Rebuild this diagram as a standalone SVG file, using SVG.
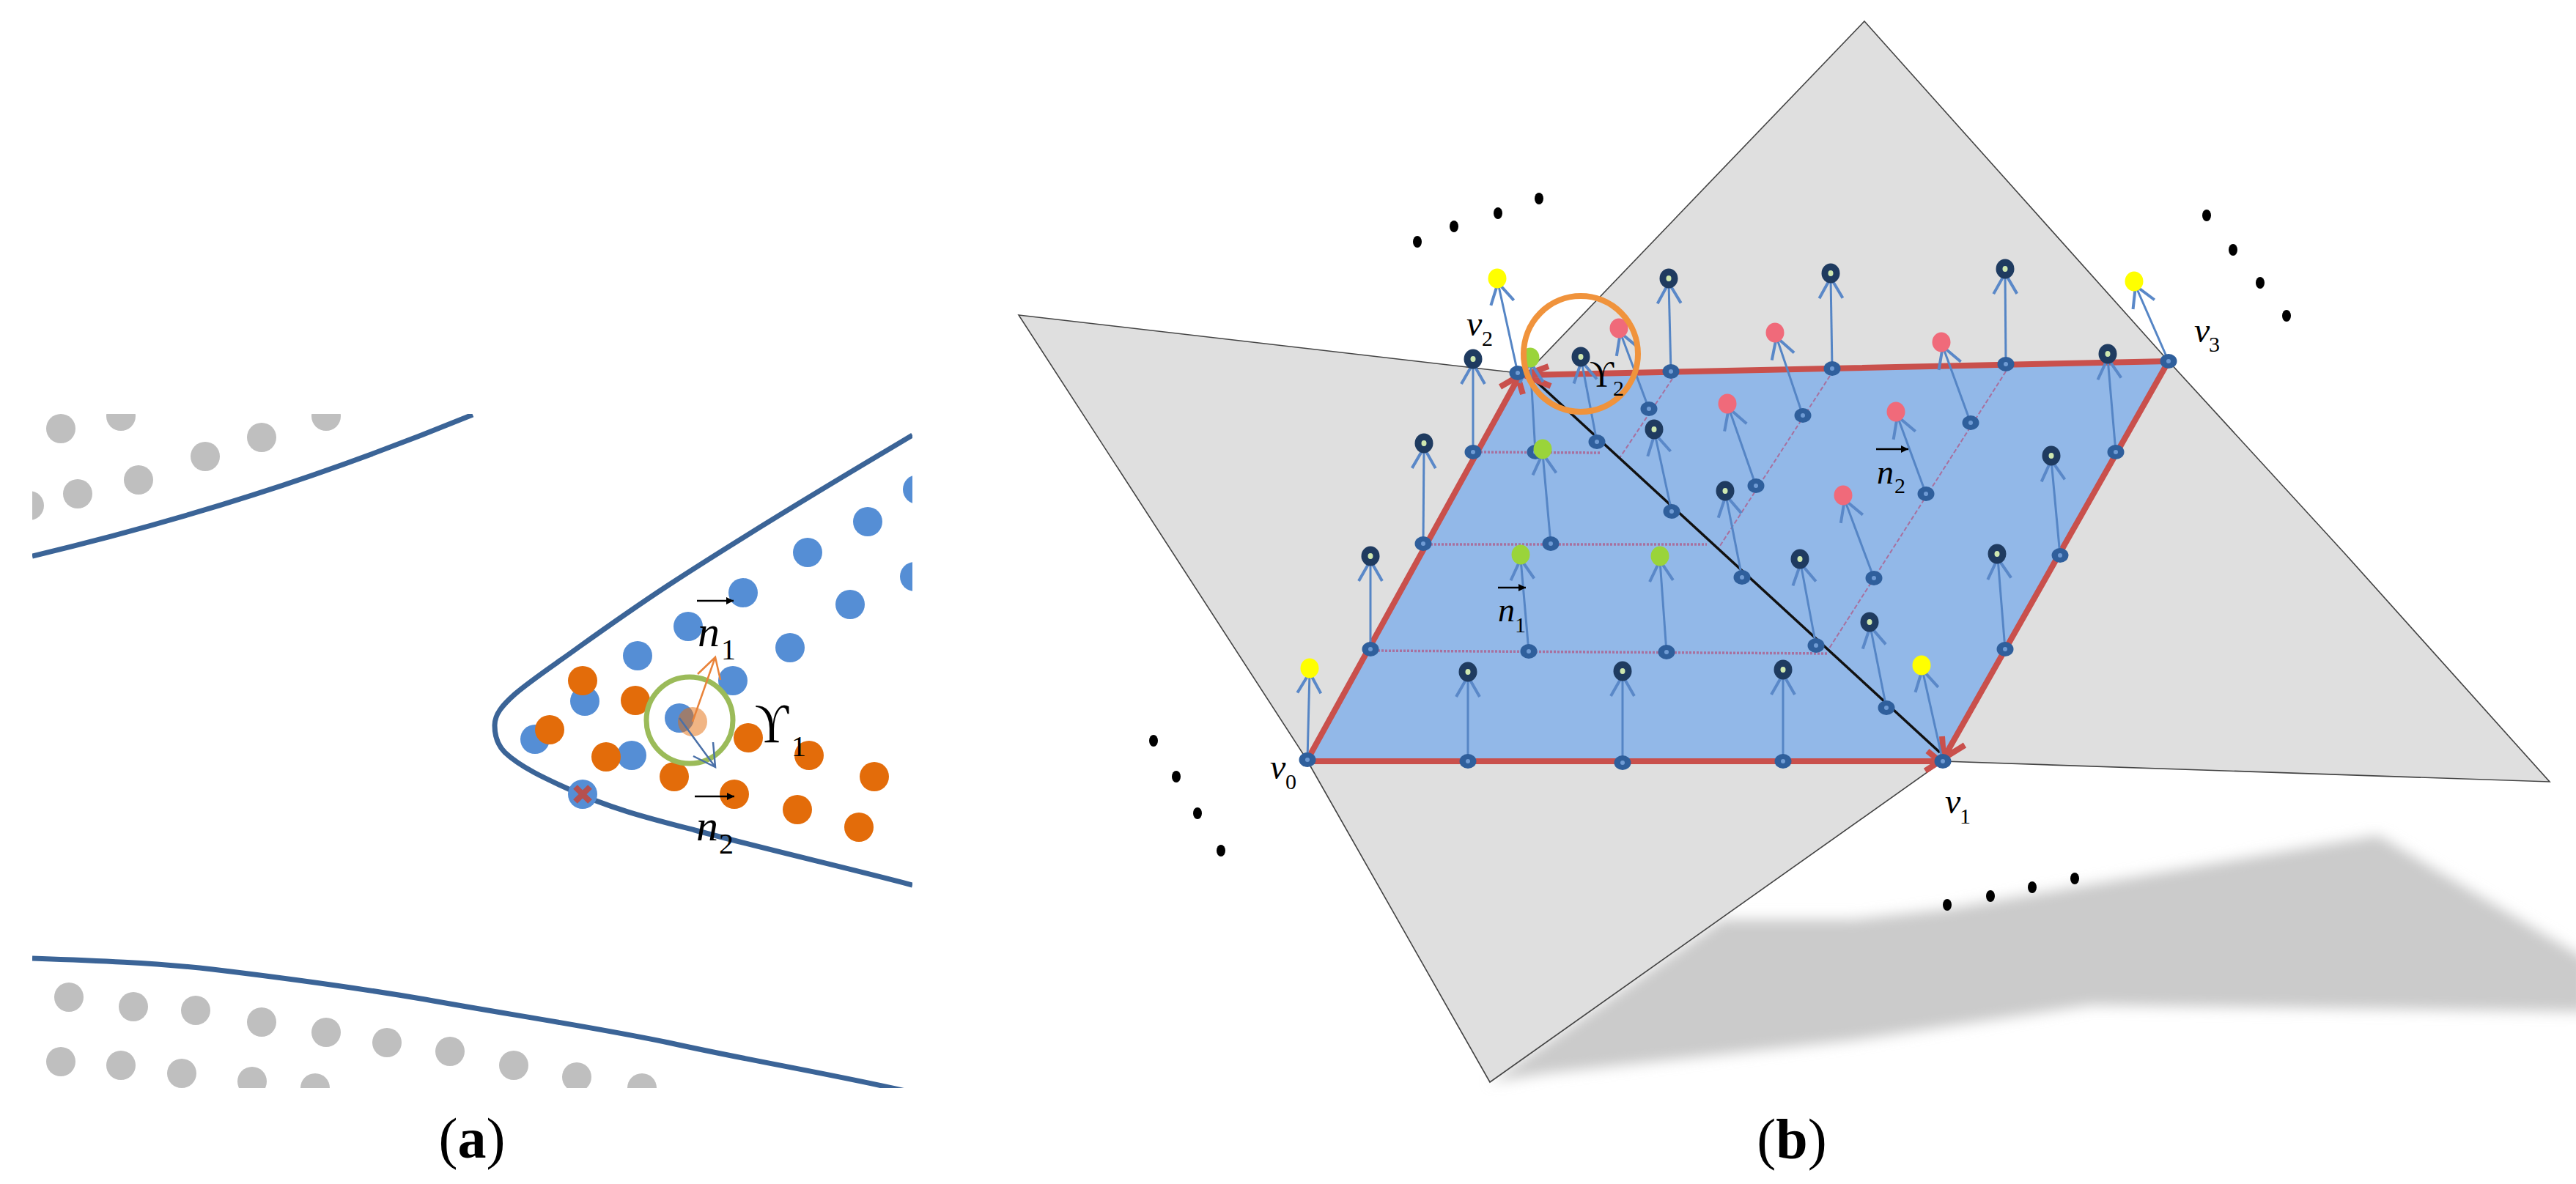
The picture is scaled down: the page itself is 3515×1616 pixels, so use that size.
<svg xmlns="http://www.w3.org/2000/svg" width="3515" height="1616" viewBox="0 0 3515 1616">
<style>
text{font-family:"Liberation Serif","Times New Roman",serif;fill:#000}
.it{font-style:italic}
.g{fill:#bfbfbf}.b{fill:#558ed5}.o{fill:#e36c0a}
.curve{fill:none;stroke:#3b6497;stroke-width:7}
.over{stroke:#000;stroke-width:2.5;marker-end:url(#tiny)}
.plane{fill:#dfdfdf;stroke:#444;stroke-width:1.6;stroke-linejoin:miter}
.nv{stroke:#5585c5;stroke-width:3;fill:none;marker-end:url(#head)}
.dot3{stroke:#a8709e;stroke-width:3.5;stroke-dasharray:3 2;fill:none}
.dash{stroke:#a8709e;stroke-width:2;stroke-dasharray:6 3;fill:none}
.edge{stroke:#c9504c;stroke-width:8;fill:none}
.ell{fill:#000}
.pk{fill:#f06a7a}.gr{fill:#9ad43a}.ye{fill:#ffff00}
</style>
<defs>
<clipPath id="clipA"><rect x="44" y="565" width="1201" height="920"/></clipPath>
<filter id="blurS" x="-5%" y="-10%" width="110%" height="120%"><feGaussianBlur stdDeviation="9"/></filter>
<filter id="blurE" x="-5%" y="-200%" width="110%" height="500%"><feGaussianBlur stdDeviation="3"/></filter>
<marker id="tiny" markerUnits="userSpaceOnUse" markerWidth="14" markerHeight="12" refX="10" refY="5" orient="auto"><path d="M0,0L10,5L0,10Z" fill="#000"/></marker>
<marker id="head" markerUnits="userSpaceOnUse" markerWidth="80" markerHeight="80" refX="40" refY="40" orient="auto"><path d="M12,24L40,40L12,56" fill="none" stroke="#5a88c8" stroke-width="4"/></marker>
<g id="dark"><ellipse rx="12.5" ry="13.5" fill="#1f3b60"/><ellipse rx="3.5" ry="4" fill="#cfe8b0"/></g>
<g id="base"><ellipse rx="11.5" ry="10" fill="#2f5f9c"/><ellipse rx="3" ry="3" fill="#6f9bd4"/></g>
<ellipse id="col" rx="12.5" ry="13.5"/>
</defs>

<g id="panel-a">
<g id="a-clipped" clip-path="url(#clipA)">
<g id="gray-dots" class="g">
<circle cx="83" cy="585" r="20"/><circle cx="165" cy="568" r="20"/><circle cx="357" cy="597" r="20"/><circle cx="445" cy="568" r="20"/><circle cx="280" cy="623" r="20"/><circle cx="189" cy="655" r="20"/><circle cx="106" cy="674" r="20"/><circle cx="40" cy="690" r="20"/>
<circle cx="94" cy="1361" r="20"/><circle cx="182" cy="1374" r="20"/><circle cx="267" cy="1379" r="20"/><circle cx="357" cy="1395" r="20"/><circle cx="445" cy="1409" r="20"/><circle cx="528" cy="1423" r="20"/><circle cx="614" cy="1435" r="20"/><circle cx="701" cy="1454" r="20"/><circle cx="787" cy="1470" r="20"/><circle cx="876" cy="1485" r="20"/>
<circle cx="83" cy="1449" r="20"/><circle cx="165" cy="1454" r="20"/><circle cx="248" cy="1465" r="20"/><circle cx="344" cy="1476" r="20"/><circle cx="430" cy="1485" r="20"/>
</g>
<g id="curves">
<path class="curve" d="M44,759C250,710 440,650 645,566"/>
<path class="curve" d="M1245,594C1160,645 1040,715 910,800C860,833 825,858 790,883C760,905 725,928 703,947C685,963 675,975 675,990C675,1005 680,1018 689,1027C710,1047 745,1063 776,1077C830,1103 890,1118 948,1133C1040,1158 1150,1183 1245,1208"/>
<path class="curve" d="M44,1308C130,1311 210,1314 290,1323C390,1335 480,1347 580,1364C690,1384 800,1400 912,1423C1020,1447 1130,1465 1240,1490"/>
</g>
<g id="blue-dots" class="b">
<circle cx="1184" cy="712" r="20"/><circle cx="1102" cy="754" r="20"/><circle cx="1248" cy="787" r="20"/><circle cx="1252" cy="668" r="20"/>
<circle cx="1014" cy="809" r="20"/><circle cx="1160" cy="825" r="20"/><circle cx="939" cy="855" r="20"/><circle cx="1078" cy="884" r="20"/><circle cx="870" cy="895" r="20"/><circle cx="1000" cy="929" r="20"/><circle cx="798" cy="957" r="20"/><circle cx="927" cy="980" r="20"/><circle cx="730" cy="1009" r="20"/><circle cx="862" cy="1031" r="20"/><circle cx="795" cy="1084" r="20"/>
</g>
<g id="orange-dots" class="o">
<circle cx="795" cy="929" r="20"/><circle cx="867" cy="956" r="20"/><circle cx="750" cy="996" r="20"/><circle cx="827" cy="1033" r="20"/><circle cx="920" cy="1060" r="20"/><circle cx="1021" cy="1007" r="20"/><circle cx="1104" cy="1031" r="20"/><circle cx="1193" cy="1060" r="20"/><circle cx="1002" cy="1084" r="20"/><circle cx="1088" cy="1105" r="20"/><circle cx="1172" cy="1129" r="20"/>
</g>
<circle id="query-point" cx="945" cy="985" r="20" fill="#e36c0a" opacity="0.5"/>
<path id="outlier-x" d="M785,1074L805,1094M805,1074L785,1094" stroke="#b5504f" stroke-width="8" fill="none"/>
<circle id="ring-a" cx="941" cy="983" r="59" fill="none" stroke="#9bbb59" stroke-width="7"/>
</g>
<g id="a-connectors">
<path d="M945,985L976,897M952,920L976,897L983,928" fill="none" stroke="#e9833a" stroke-width="2.5"/>
<path d="M927,980L976,1047M973,1013L976,1047L946,1032" fill="none" stroke="#4a70a8" stroke-width="2.5"/>
<line class="over" x1="951" y1="820" x2="1001" y2="820"/>
<line class="over" x1="948" y1="1087" x2="1002" y2="1087"/>
</g>
<g id="a-labels">
<text class="it" x="952" y="882" font-size="60">n</text><text x="984" y="900" font-size="40">1</text>
<text class="it" x="950" y="1147" font-size="60">n</text><text x="981" y="1165" font-size="40">2</text>
<text x="1030" y="1013" font-size="76" textLength="46" lengthAdjust="spacingAndGlyphs">ϒ</text><text x="1080" y="1032" font-size="40">1</text>
</g>
<text id="label-a" x="644" y="1580" font-size="78" text-anchor="middle">(<tspan font-weight="bold">a</tspan>)</text>
</g>

<g id="panel-b">
<path id="shadow" d="M2033,1477L2350,1255L2528,1255L2654,1241L3245,1140L3530,1310L3530,1381L2853,1372L2528,1420L2109,1465Z" fill="#cbcbcb" filter="url(#blurS)"/>
<polygon id="plane-left" class="plane" points="1390,430 2071,509 2651,1039 2033,1477 1782,1035"/>
<polygon id="plane-right" class="plane" points="2544,29 2959,493 3200,756 3479,1067 2651,1039 2071,522"/>
<polygon id="patch" points="1784,1037 2071,509 2959,493 2651,1039" fill="#92b8e8"/>
<line id="edge-shadow" x1="1790" y1="1047" x2="2640" y2="1047" stroke="#777" stroke-width="6" filter="url(#blurE)"/>
<g id="connectors">
<g id="grid-lines">
<path class="dot3" d="M2010,617L2185,618"/><path class="dot3" d="M1942,743L2329,743"/><path class="dot3" d="M1870,888L2494,892"/>
<path class="dash" d="M2282,517L2210,625"/><path class="dash" d="M2497,513L2345,748"/><path class="dash" d="M2737,507L2494,888"/>
</g>
<line id="diagonal" x1="2090" y1="515" x2="2647" y2="1027" stroke="#111" stroke-width="3.5"/>
<g id="boundary">
<path class="edge" d="M1784,1037L2071,517M2047,528L2071,514L2078,538"/>
<path class="edge" d="M2959,493L2080,512M2113,500L2080,512L2116,527"/>
<path class="edge" d="M1784,1039L2647,1039M2630,1025L2647,1039L2627,1052"/>
<path class="edge" d="M2959,493L2652,1035M2650,1005L2652,1035L2681,1017"/>
</g>
<g id="normals">
<line class="nv" x1="2071" y1="509" x2="2044" y2="386"/><line class="nv" x1="2010" y1="617" x2="2010" y2="496"/><line class="nv" x1="1942" y1="742" x2="1943" y2="611"/><line class="nv" x1="1870" y1="886" x2="1870" y2="765"/><line class="nv" x1="1784" y1="1037" x2="1787" y2="918"/><line class="nv" x1="2003" y1="1039" x2="2003" y2="923"/><line class="nv" x1="2214" y1="1041" x2="2214" y2="922"/><line class="nv" x1="2433" y1="1039" x2="2433" y2="920"/><line class="nv" x1="2086" y1="889" x2="2075" y2="763"/><line class="nv" x1="2274" y1="890" x2="2265" y2="765"/><line class="nv" x1="2478" y1="881" x2="2457" y2="769"/><line class="nv" x1="2095" y1="617" x2="2088" y2="494"/><line class="nv" x1="2116" y1="742" x2="2105" y2="619"/><line class="nv" x1="2179" y1="603" x2="2158" y2="493"/><line class="nv" x1="2250" y1="558" x2="2211" y2="454"/><line class="nv" x1="2280" y1="507" x2="2277" y2="386"/><line class="nv" x1="2460" y1="567" x2="2424" y2="460"/><line class="nv" x1="2281" y1="698" x2="2258" y2="592"/><line class="nv" x1="2396" y1="663" x2="2359" y2="557"/><line class="nv" x1="2377" y1="788" x2="2355" y2="676"/><line class="nv" x1="2500" y1="503" x2="2498" y2="379"/><line class="nv" x1="2689" y1="577" x2="2651" y2="473"/><line class="nv" x1="2737" y1="497" x2="2736" y2="373"/><line class="nv" x1="2959" y1="493" x2="2914" y2="390"/><line class="nv" x1="2887" y1="617" x2="2876" y2="489"/><line class="nv" x1="2628" y1="674" x2="2589" y2="568"/><line class="nv" x1="2557" y1="789" x2="2517" y2="682"/><line class="nv" x1="2811" y1="758" x2="2799" y2="628"/><line class="nv" x1="2736" y1="886" x2="2726" y2="762"/><line class="nv" x1="2574" y1="966" x2="2552" y2="855"/><line class="nv" x1="2651" y1="1039" x2="2623" y2="914"/>
</g>
<line class="over" x1="2044" y1="802" x2="2082" y2="802"/>
<line class="over" x1="2560" y1="613" x2="2604" y2="613"/>
</g>
<g id="base-nodes">
<use href="#base" x="2071" y="509"/><use href="#base" x="2010" y="617"/><use href="#base" x="1942" y="742"/><use href="#base" x="1870" y="886"/><use href="#base" x="1784" y="1037"/><use href="#base" x="2003" y="1039"/><use href="#base" x="2214" y="1041"/><use href="#base" x="2433" y="1039"/><use href="#base" x="2086" y="889"/><use href="#base" x="2274" y="890"/><use href="#base" x="2478" y="881"/><use href="#base" x="2095" y="617"/><use href="#base" x="2116" y="742"/><use href="#base" x="2179" y="603"/><use href="#base" x="2250" y="558"/><use href="#base" x="2280" y="507"/><use href="#base" x="2460" y="567"/><use href="#base" x="2281" y="698"/><use href="#base" x="2396" y="663"/><use href="#base" x="2377" y="788"/><use href="#base" x="2500" y="503"/><use href="#base" x="2689" y="577"/><use href="#base" x="2737" y="497"/><use href="#base" x="2959" y="493"/><use href="#base" x="2887" y="617"/><use href="#base" x="2628" y="674"/><use href="#base" x="2557" y="789"/><use href="#base" x="2811" y="758"/><use href="#base" x="2736" y="886"/><use href="#base" x="2574" y="966"/><use href="#base" x="2651" y="1039"/>
</g>
<g id="top-nodes">
<use class="ye" href="#col" x="2043" y="380"/><use href="#dark" x="2010" y="490"/><use href="#dark" x="1943" y="605"/><use href="#dark" x="1870" y="759"/><use class="ye" href="#col" x="1787" y="912"/><use href="#dark" x="2003" y="917"/><use href="#dark" x="2214" y="916"/><use href="#dark" x="2433" y="914"/><use class="gr" href="#col" x="2075" y="757"/><use class="gr" href="#col" x="2265" y="759"/><use href="#dark" x="2456" y="763"/><use class="gr" href="#col" x="2088" y="488"/><use class="gr" href="#col" x="2105" y="613"/><use href="#dark" x="2157" y="487"/><use class="pk" href="#col" x="2209" y="448"/><use href="#dark" x="2277" y="380"/><use class="pk" href="#col" x="2422" y="454"/><use href="#dark" x="2257" y="586"/><use class="pk" href="#col" x="2357" y="551"/><use href="#dark" x="2354" y="670"/><use href="#dark" x="2498" y="373"/><use class="pk" href="#col" x="2649" y="467"/><use href="#dark" x="2736" y="367"/><use class="ye" href="#col" x="2912" y="384"/><use href="#dark" x="2876" y="483"/><use class="pk" href="#col" x="2587" y="562"/><use class="pk" href="#col" x="2515" y="676"/><use href="#dark" x="2799" y="622"/><use href="#dark" x="2725" y="756"/><use href="#dark" x="2551" y="849"/><use class="ye" href="#col" x="2622" y="908"/>
</g>
<ellipse id="ring-b" cx="2157" cy="483" rx="78" ry="79" fill="none" stroke="#f0933c" stroke-width="8"/>
<g id="ellipses" class="ell">
<ellipse cx="1934" cy="330" rx="6" ry="8"/><ellipse cx="1984" cy="309" rx="6" ry="8"/><ellipse cx="2044" cy="291" rx="6" ry="8"/><ellipse cx="2100" cy="271" rx="6" ry="8"/>
<ellipse cx="3011" cy="294" rx="6" ry="8"/><ellipse cx="3047" cy="341" rx="6" ry="8"/><ellipse cx="3084" cy="386" rx="6" ry="8"/><ellipse cx="3120" cy="431" rx="6" ry="8"/>
<ellipse cx="1574" cy="1011" rx="6" ry="8"/><ellipse cx="1605" cy="1060" rx="6" ry="8"/><ellipse cx="1634" cy="1110" rx="6" ry="8"/><ellipse cx="1666" cy="1161" rx="6" ry="8"/>
<ellipse cx="2657" cy="1235" rx="6" ry="8"/><ellipse cx="2716" cy="1223" rx="6" ry="8"/><ellipse cx="2773" cy="1211" rx="6" ry="8"/><ellipse cx="2831" cy="1199" rx="6" ry="8"/>
</g>
<g id="b-labels">
<text class="it" x="2001" y="458" font-size="48">v</text><text x="2022" y="472" font-size="30">2</text>
<text class="it" x="2994" y="467" font-size="48">v</text><text x="3014" y="480" font-size="30">3</text>
<text class="it" x="1733" y="1063" font-size="48">v</text><text x="1754" y="1077" font-size="30">0</text>
<text class="it" x="2654" y="1110" font-size="48">v</text><text x="2674" y="1124" font-size="30">1</text>
<text x="2169" y="527" font-size="50" textLength="33" lengthAdjust="spacingAndGlyphs">ϒ</text><text x="2201" y="540" font-size="30">2</text>
<text class="it" x="2044" y="848" font-size="46">n</text><text x="2067" y="863" font-size="30">1</text>
<text class="it" x="2561" y="660" font-size="46">n</text><text x="2585" y="673" font-size="30">2</text>
</g>
<text id="label-b" x="2445" y="1581" font-size="78" text-anchor="middle">(<tspan font-weight="bold">b</tspan>)</text>
</g>
</svg>
